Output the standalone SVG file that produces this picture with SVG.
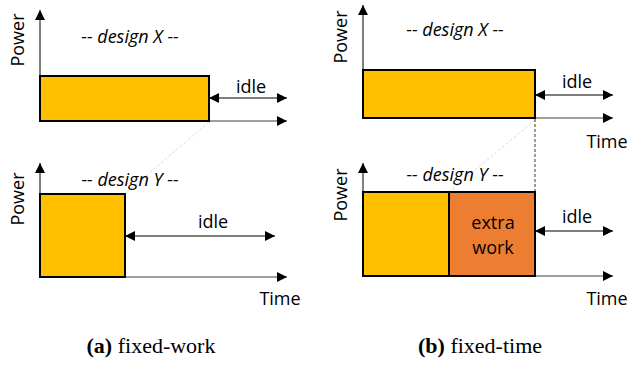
<svg xmlns="http://www.w3.org/2000/svg" width="629" height="365" viewBox="0 0 629 365">
<style>
.t{font-family:"Open Sans","DejaVu Sans",sans-serif;font-size:18px;fill:#000}
.i{font-style:italic}
.cap{font-family:"Liberation Serif","DejaVu Serif",serif;font-size:22px;fill:#000}
.ax{stroke:#000;stroke-width:1;fill:none}
.xax{stroke:#7f7f7f;stroke-width:1.5;fill:none}
.arr{stroke:#000;stroke-width:1;fill:none}
.y{fill:#FFC000;stroke:#000;stroke-width:2}
.o{fill:#ED7D31;stroke:#000;stroke-width:2}
.faint{stroke:#d0d0d0;stroke-width:0.8;stroke-dasharray:3,2;fill:none}
.dash{stroke:#000;stroke-width:0.8;stroke-dasharray:3,2;fill:none}
</style>
<defs>
<marker id="ah" viewBox="0 0 10 10" refX="10" refY="5" markerWidth="10" markerHeight="10" markerUnits="userSpaceOnUse" orient="auto-start-reverse">
<path d="M0,0 L10,5 L0,10 z" fill="#000"/>
</marker>
</defs>
<g id="connectors">
<line class="faint" x1="209" y1="122" x2="126" y2="193"/>
<line class="faint" x1="535" y1="120" x2="450" y2="191"/>
<line class="dash" x1="535" y1="119" x2="535" y2="192"/>
<line class="ax" x1="40" y1="121" x2="40" y2="10" marker-end="url(#ah)"/>
<line class="xax" x1="40" y1="121" x2="287" y2="121" marker-end="url(#ah)"/>
<line class="arr" x1="209" y1="98" x2="287" y2="98" marker-start="url(#ah)" marker-end="url(#ah)"/>
<line class="ax" x1="40" y1="277" x2="40" y2="163" marker-end="url(#ah)"/>
<line class="xax" x1="40" y1="277" x2="287" y2="277" marker-end="url(#ah)"/>
<line class="arr" x1="125" y1="236" x2="275" y2="236" marker-start="url(#ah)" marker-end="url(#ah)"/>
<line class="ax" x1="363" y1="118" x2="363" y2="5" marker-end="url(#ah)"/>
<line class="xax" x1="363" y1="118" x2="613" y2="118" marker-end="url(#ah)"/>
<line class="arr" x1="535" y1="95" x2="613" y2="95" marker-start="url(#ah)" marker-end="url(#ah)"/>
<line class="ax" x1="363" y1="276" x2="363" y2="163" marker-end="url(#ah)"/>
<line class="xax" x1="363" y1="276" x2="613" y2="276" marker-end="url(#ah)"/>
<line class="arr" x1="535" y1="231" x2="613" y2="231" marker-start="url(#ah)" marker-end="url(#ah)"/>
</g>
<g id="a-top">
<rect class="y" x="40" y="76" width="169" height="45"/>
<text class="t i" x="130" y="43" text-anchor="middle">-- design X --</text>
<text class="t" x="251" y="93" text-anchor="middle">idle</text>
<text class="t" transform="translate(24,40) rotate(-90)" text-anchor="middle">Power</text>
</g>
<g id="a-bottom">
<rect class="y" x="40" y="194" width="85" height="83"/>
<text class="t i" x="130" y="186" text-anchor="middle">-- design Y --</text>
<text class="t" x="213" y="228" text-anchor="middle">idle</text>
<text class="t" transform="translate(24,199) rotate(-90)" text-anchor="middle">Power</text>
<text class="t" x="280" y="305" text-anchor="middle">Time</text>
</g>
<g id="b-top">
<rect class="y" x="363" y="70" width="172" height="48"/>
<text class="t i" x="455" y="36" text-anchor="middle">-- design X --</text>
<text class="t" x="577" y="88" text-anchor="middle">idle</text>
<text class="t" transform="translate(347,37) rotate(-90)" text-anchor="middle">Power</text>
<text class="t" x="607" y="148" text-anchor="middle">Time</text>
</g>
<g id="b-bottom">
<rect class="y" x="363" y="192" width="86" height="84"/>
<rect class="o" x="449" y="192" width="86" height="84"/>
<text class="t i" x="455" y="181" text-anchor="middle">-- design Y --</text>
<text class="t" x="493" y="229" text-anchor="middle">extra</text>
<text class="t" x="493" y="254" text-anchor="middle">work</text>
<text class="t" x="577" y="223" text-anchor="middle">idle</text>
<text class="t" transform="translate(347,195) rotate(-90)" text-anchor="middle">Power</text>
<text class="t" x="607" y="305" text-anchor="middle">Time</text>
</g>
<g id="captions">
<text class="cap" x="151" y="353" text-anchor="middle"><tspan font-weight="bold">(a)</tspan> fixed-work</text>
<text class="cap" x="480" y="353" text-anchor="middle"><tspan font-weight="bold">(b)</tspan> fixed-time</text>
</g>
</svg>
